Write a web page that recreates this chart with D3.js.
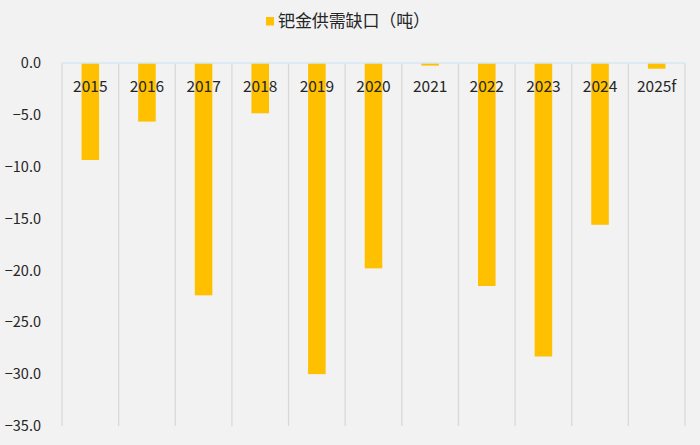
<!DOCTYPE html>
<html>
<head>
<meta charset="utf-8">
<script src="https://cdn.jsdelivr.net/npm/d3@7"></script>
<style>
  html, body { margin: 0; padding: 0; background: #f2f2f2; }
  svg { display: block; }
</style>
</head>
<body>
<div id="chart"></div>
<script>
const years = ["2015", "2016", "2017", "2018", "2019", "2020", "2021", "2022", "2023", "2024", "2025f"];
const gap = [-9.35, -5.65, -22.4, -4.85, -30.0, -19.8, -0.25, -21.5, -28.3, -15.6, -0.55];
const yTicks = [0, -5, -10, -15, -20, -25, -30, -35];
const seriesName = "钯金供需缺口（吨）";

function initGapChart() {
    const W = 700, H = 445;
    const margin = { top: 63, right: 15, bottom: 19, left: 62 };
    const width = W - margin.left - margin.right;
    const height = H - margin.top - margin.bottom;
    const font = "'Noto Sans CJK SC', 'Microsoft YaHei', sans-serif";

    const svg = d3.select("#chart")
        .append("svg")
        .attr("width", W)
        .attr("height", H)
        .style("background", "#f2f2f2");

    const g = svg.append("g")
        .attr("transform", `translate(${margin.left}, ${margin.top})`);

    const xScale = d3.scaleBand()
        .domain(years)
        .range([0, width])
        .paddingInner(0.69)
        .paddingOuter(0.345);

    const xGrid = d3.scaleBand()
        .domain(years)
        .range([0, width]);

    const yScale = d3.scaleLinear()
        .domain([0, -35])
        .range([0, height]);

    // vertical separators between categories
    const seps = years.map(d => xGrid(d)).concat([width]);
    g.selectAll("line.sep")
        .data(seps)
        .enter()
        .append("line")
        .attr("class", "sep")
        .attr("x1", d => d)
        .attr("x2", d => d)
        .attr("y1", 0)
        .attr("y2", height)
        .attr("stroke", "#d9d9d9")
        .attr("stroke-width", 1.3);

    g.selectAll("rect.bar")
        .data(gap)
        .enter()
        .append("rect")
        .attr("class", "bar")
        .attr("x", (d, i) => xScale(years[i]))
        .attr("y", yScale(0))
        .attr("width", xScale.bandwidth())
        .attr("height", d => yScale(d) - yScale(0))
        .attr("fill", "#ffc000");

    // zero line
    g.append("line")
        .attr("x1", 0)
        .attr("x2", width)
        .attr("y1", yScale(0))
        .attr("y2", yScale(0))
        .attr("stroke", "#d3e9f5")
        .attr("stroke-width", 1.3);

    // y axis labels
    const yAxis = g.append("g")
        .call(d3.axisLeft(yScale).tickValues(yTicks).tickFormat(d3.format(".1f")).tickSize(0).tickPadding(21));
    yAxis.select(".domain").remove();
    yAxis.selectAll("text")
        .attr("fill", "#262626")
        .style("font-family", font)
        .style("font-size", "14.5px");

    // category labels sit just under the zero line
    g.selectAll("text.cat")
        .data(years)
        .enter()
        .append("text")
        .attr("class", "cat")
        .attr("x", d => xGrid(d) + xGrid.bandwidth() / 2)
        .attr("y", 29)
        .attr("text-anchor", "middle")
        .attr("fill", "#262626")
        .style("font-family", font)
        .style("font-size", "15.5px")
        .text(d => d);

    // legend
    const legend = svg.append("g")
        .attr("transform", "translate(266, 17)");
    legend.append("rect")
        .attr("width", 8)
        .attr("height", 8.5)
        .attr("fill", "#ffc000");
    legend.append("text")
        .attr("x", 12)
        .attr("y", 4.5)
        .attr("dy", "0.35em")
        .attr("textLength", 152)
        .attr("lengthAdjust", "spacing")
        .attr("fill", "#262626")
        .style("font-family", font)
        .style("font-size", "17px")
        .text(seriesName);
}

initGapChart();
</script>
</body>
</html>
